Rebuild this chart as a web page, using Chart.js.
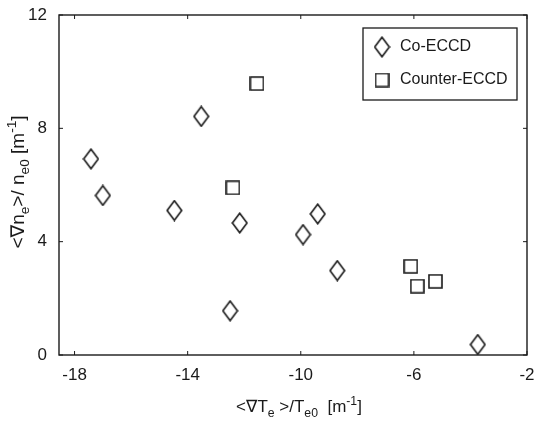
<!DOCTYPE html>
<html>
<head>
<meta charset="utf-8">
<script src="https://cdn.jsdelivr.net/npm/chart.js@4"></script>
<style>
  html, body { margin: 0; padding: 0; background: #fff; }
  #wrap { width: 537px; height: 421px; }
</style>
</head>
<body>
<div id="wrap"><canvas id="chart"></canvas></div>
<script>
const seriesNames = ["Co-ECCD", "Counter-ECCD"];

// Co-ECCD (diamonds)
const coX = [-17.42, -17.0, -13.52, -14.47, -12.16, -12.5, -9.92, -9.40, -8.71, -3.74];
const coY = [6.92, 5.63, 8.42, 5.1, 4.66, 1.56, 4.25, 4.98, 2.98, 0.37];

// Counter-ECCD (squares)
const ctrX = [-11.55, -12.4, -6.11, -5.88, -5.24];
const ctrY = [9.58, 5.9, 3.13, 2.43, 2.6];

const xTicks = [-18, -14, -10, -6, -2];
const yTicks = [0, 4, 8, 12];

const FONT = "'Liberation Sans', Arial, 'DejaVu Sans', sans-serif";
const INK = "#1a1a1a";

function makeMarker(kind) {
  const c = document.createElement("canvas");
  const w = kind === "diamond" ? 17 : 15;
  const h = kind === "diamond" ? 22 : 15;
  c.width = w; c.height = h;
  const g = c.getContext("2d");
  g.strokeStyle = INK;
  g.lineWidth = 1.6;
  g.beginPath();
  if (kind === "diamond") {
    g.moveTo(w / 2, 1.2);
    g.lineTo(w - 1.2, h / 2);
    g.lineTo(w / 2, h - 1.2);
    g.lineTo(1.2, h / 2);
    g.closePath();
  } else {
    g.rect(1, 1, w - 2, h - 2);
  }
  g.stroke();
  return c;
}
const diamond = makeMarker("diamond");
const square = makeMarker("square");

const toPoints = (xs, ys) => xs.map((x, i) => ({ x, y: ys[i] }));

// text with sub/superscripts, drawn at a centre point
function drawRich(ctx, parts, cx, cy, size, rotate) {
  ctx.save();
  ctx.translate(cx, cy);
  if (rotate) ctx.rotate(-Math.PI / 2);
  ctx.fillStyle = INK;
  ctx.textBaseline = "alphabetic";
  let total = 0;
  parts.forEach(p => {
    ctx.font = (p.sub || p.sup ? size * 0.72 : size) + "px " + FONT;
    total += ctx.measureText(p.t).width;
  });
  let x = -total / 2;
  const base = size * 0.35;
  parts.forEach(p => {
    ctx.font = (p.sub || p.sup ? size * 0.72 : size) + "px " + FONT;
    let dy = 0;
    if (p.sub) dy = size * 0.3;
    if (p.sup) dy = -size * 0.4;
    ctx.fillText(p.t, x, base + dy);
    x += ctx.measureText(p.t).width;
  });
  ctx.restore();
}

const framePlugin = {
  id: "frame",
  afterDraw(chart) {
    const { ctx, chartArea: a, scales } = chart;
    ctx.save();
    ctx.strokeStyle = INK;
    ctx.lineWidth = 1.4;
    ctx.strokeRect(a.left, a.top, a.right - a.left, a.bottom - a.top);
    // small inward tick marks
    ctx.lineWidth = 1;
    xTicks.forEach(v => {
      const px = scales.x.getPixelForValue(v);
      ctx.beginPath();
      ctx.moveTo(px, a.bottom); ctx.lineTo(px, a.bottom - 4);
      ctx.moveTo(px, a.top); ctx.lineTo(px, a.top + 4);
      ctx.stroke();
    });
    yTicks.forEach(v => {
      const py = scales.y.getPixelForValue(v);
      ctx.beginPath();
      ctx.moveTo(a.left, py); ctx.lineTo(a.left + 4, py);
      ctx.moveTo(a.right, py); ctx.lineTo(a.right - 4, py);
      ctx.stroke();
    });

    // legend box inside the plot
    const lx = 363, ly = 28, lw = 154, lh = 72;
    ctx.lineWidth = 1.3;
    ctx.strokeRect(lx, ly, lw, lh);
    const marks = [diamond, square];
    ctx.font = "16px " + FONT;
    ctx.fillStyle = INK;
    ctx.textBaseline = "middle";
    seriesNames.forEach((name, i) => {
      const my = ly + 19 + i * 33;
      const m = marks[i];
      ctx.drawImage(m, lx + 19 - m.width / 2, my - m.height / 2);
      ctx.fillText(name, lx + 37, my);
    });

    // axis titles
    const midX = (a.left + a.right) / 2;
    drawRich(ctx, [
      { t: "<\u2207T" }, { t: "e", sub: true }, { t: " >/T" }, { t: "e0", sub: true },
      { t: "  [m" }, { t: "-1", sup: true }, { t: "]" }
    ], midX + 6, 406, 17, false);
    drawRich(ctx, [
      { t: "<\u2207n" }, { t: "e", sub: true }, { t: ">/ n" }, { t: "e0", sub: true },
      { t: " [m" }, { t: "-1", sup: true }, { t: "]" }
    ], 17, (a.top + a.bottom) / 2 - 3, 19, true);
    ctx.restore();
  }
};

new Chart(document.getElementById("chart"), {
  type: "scatter",
  data: {
    datasets: [
      { label: seriesNames[0], data: toPoints(coX, coY), pointStyle: diamond, pointRadius: 9 },
      { label: seriesNames[1], data: toPoints(ctrX, ctrY), pointStyle: square, pointRadius: 8 }
    ]
  },
  options: {
    responsive: true,
    maintainAspectRatio: false,
    animation: false,
    layout: { padding: { top: 15, right: 9, left: 0, bottom: 0 } },
    plugins: { legend: { display: false }, tooltip: { enabled: false } },
    scales: {
      x: {
        type: "linear",
        min: -18.55,
        max: -2,
        afterBuildTicks: s => { s.ticks = xTicks.map(v => ({ value: v })); },
        afterFit: s => { s.height = 66; s.paddingLeft = 0; s.paddingRight = 0; },
        grid: { display: false, drawTicks: false },
        border: { display: false },
        ticks: { color: INK, font: { family: FONT, size: 17 }, padding: 10, maxRotation: 0 }
      },
      y: {
        type: "linear",
        min: 0,
        max: 12,
        afterBuildTicks: s => { s.ticks = yTicks.map(v => ({ value: v })); },
        afterFit: s => { s.width = 59; s.paddingTop = 0; s.paddingBottom = 0; },
        grid: { display: false, drawTicks: false },
        border: { display: false },
        ticks: { color: INK, font: { family: FONT, size: 17 }, padding: 12 }
      }
    }
  },
  plugins: [framePlugin]
});
</script>
</body>
</html>
